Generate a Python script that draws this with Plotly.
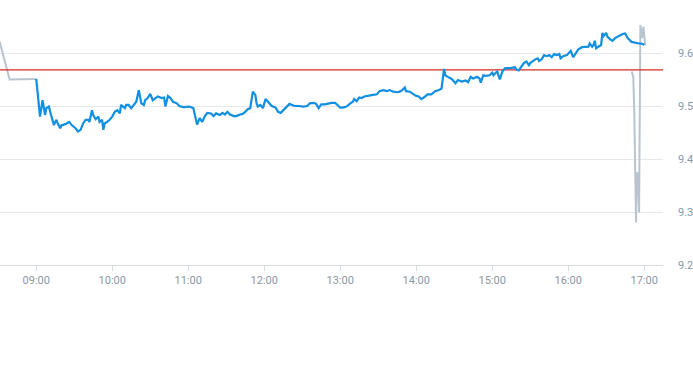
import plotly.graph_objects as go

DAY = "2024-01-02 "

# Regular-session price (blue)
blue_times = [
    "09:00", "09:02", "09:03", "09:05", "09:06", "09:07", "09:08", "09:10", "09:11", "09:13",
    "09:14", "09:15", "09:16", "09:17", "09:19", "09:20", "09:21", "09:24", "09:26", "09:28",
    "09:31", "09:33", "09:35", "09:37", "09:39", "09:41", "09:42", "09:44", "09:45", "09:47",
    "09:49", "09:50", "09:52", "09:53", "09:54", "09:56", "09:58", "10:00", "10:02", "10:04",
    "10:06", "10:07", "10:09", "10:10", "10:11", "10:13", "10:15", "10:17", "10:19", "10:21",
    "10:23", "10:25", "10:26", "10:28", "10:30", "10:32", "10:34", "10:36", "10:39", "10:41",
    "10:42", "10:44", "10:46", "10:48", "10:51", "10:53", "10:56", "11:01", "11:04", "11:05",
    "11:07", "11:09", "11:11", "11:13", "11:15", "11:18", "11:20", "11:22", "11:25", "11:27",
    "11:29", "11:31", "11:33", "11:36", "11:38", "11:41", "11:43", "11:45", "11:47", "11:49",
    "11:50", "11:51", "11:53", "11:54", "11:55", "11:57", "11:59", "12:00", "12:01", "12:03",
    "12:06", "12:09", "12:11", "12:13", "12:15", "12:18", "12:20", "12:22", "12:24", "12:27",
    "12:31", "12:34", "12:36", "12:39", "12:41", "12:43", "12:45", "12:48", "12:51", "12:53",
    "12:56", "12:58", "13:00", "13:02", "13:05", "13:08", "13:10", "13:11", "13:13", "13:15",
    "13:17", "13:19", "13:21", "13:24", "13:26", "13:29", "13:31", "13:34", "13:37", "13:39",
    "13:42", "13:45", "13:47", "13:49", "13:51", "13:52", "13:55", "13:58", "14:00", "14:02",
    "14:04", "14:06", "14:09", "14:12", "14:14", "14:15", "14:18", "14:20", "14:22", "14:23",
    "14:25", "14:28", "14:30", "14:31", "14:33", "14:36", "14:39", "14:41", "14:43", "14:45",
    "14:48", "14:50", "14:51", "14:53", "14:55", "14:58", "15:00", "15:01", "15:03", "15:04",
    "15:06", "15:08", "15:10", "15:13", "15:15", "15:18", "15:19", "15:21", "15:23", "15:25",
    "15:27", "15:29", "15:30", "15:32", "15:34", "15:36", "15:37", "15:39", "15:41", "15:43",
    "15:45", "15:47", "15:49", "15:51", "15:53", "15:54", "15:56", "15:59", "16:01", "16:02",
    "16:04", "16:06", "16:08", "16:11", "16:13", "16:16", "16:17", "16:19", "16:20", "16:21",
    "16:22", "16:24", "16:26", "16:27", "16:28", "16:30", "16:31", "16:33", "16:35", "16:37",
    "16:40", "16:42", "16:43", "16:45", "16:47", "16:50", "16:53", "16:56", "16:59", "17:00",
]
blue_values = [
    9.551, 9.505, 9.480, 9.511, 9.492, 9.483, 9.496, 9.499, 9.489, 9.474,
    9.464, 9.470, 9.474, 9.467, 9.458, 9.464, 9.464, 9.467, 9.470, 9.464,
    9.458, 9.452, 9.455, 9.467, 9.474, 9.474, 9.470, 9.492, 9.483, 9.475,
    9.480, 9.470, 9.474, 9.455, 9.467, 9.470, 9.474, 9.480, 9.489, 9.492,
    9.486, 9.502, 9.499, 9.496, 9.502, 9.502, 9.496, 9.502, 9.508, 9.530,
    9.505, 9.502, 9.511, 9.515, 9.523, 9.511, 9.515, 9.518, 9.515, 9.516,
    9.499, 9.519, 9.515, 9.508, 9.505, 9.500, 9.498, 9.499, 9.496, 9.486,
    9.465, 9.477, 9.470, 9.480, 9.487, 9.486, 9.481, 9.486, 9.483, 9.487,
    9.484, 9.489, 9.484, 9.481, 9.481, 9.484, 9.485, 9.489, 9.494, 9.496,
    9.515, 9.527, 9.521, 9.505, 9.499, 9.502, 9.496, 9.505, 9.513, 9.508,
    9.500, 9.497, 9.489, 9.487, 9.492, 9.500, 9.504, 9.502, 9.500, 9.500,
    9.499, 9.500, 9.505, 9.506, 9.504, 9.496, 9.503, 9.503, 9.505, 9.506,
    9.506, 9.502, 9.497, 9.497, 9.499, 9.505, 9.508, 9.513, 9.509, 9.516,
    9.515, 9.518, 9.519, 9.521, 9.521, 9.522, 9.528, 9.530, 9.528, 9.530,
    9.527, 9.526, 9.527, 9.530, 9.535, 9.528, 9.527, 9.522, 9.519, 9.518,
    9.513, 9.516, 9.522, 9.522, 9.526, 9.528, 9.530, 9.533, 9.570, 9.558,
    9.555, 9.551, 9.546, 9.543, 9.549, 9.546, 9.548, 9.545, 9.555, 9.552,
    9.555, 9.552, 9.544, 9.558, 9.557, 9.558, 9.563, 9.558, 9.563, 9.565,
    9.550, 9.565, 9.571, 9.571, 9.572, 9.573, 9.569, 9.567, 9.574, 9.581,
    9.584, 9.577, 9.581, 9.585, 9.588, 9.590, 9.585, 9.588, 9.596, 9.594,
    9.596, 9.592, 9.598, 9.596, 9.598, 9.590, 9.594, 9.596, 9.602, 9.604,
    9.592, 9.599, 9.607, 9.611, 9.611, 9.612, 9.618, 9.612, 9.615, 9.623,
    9.609, 9.612, 9.615, 9.638, 9.632, 9.638, 9.631, 9.626, 9.623, 9.628,
    9.632, 9.634, 9.636, 9.637, 9.628, 9.621, 9.619, 9.618, 9.617, 9.615,
]

# Extended-hours price (grey), pre-open and after-close parts
pre_times = ["08:31:00", "08:39:00", "09:00:00"]
pre_values = [9.622, 9.550, 9.551]
post_times = ["16:50:12", "16:51:24", "16:52:12", "16:53:00", "16:53:36", "16:54:06",
              "16:54:54", "16:56:00", "16:56:30", "16:57:00", "16:58:24", "16:59:24", "17:00:48"]
post_values = [9.565, 9.555, 9.487, 9.360, 9.280, 9.373,
               9.373, 9.299, 9.455, 9.653, 9.628, 9.650, 9.615]

prev_close = 9.568

x_range = ["08:31:24", "17:14:52"]
y_range = [9.2, 9.7]
y_ticks = [9.2, 9.3, 9.4, 9.5, 9.6]
x_ticks = ["09:00", "10:00", "11:00", "12:00", "13:00", "14:00", "15:00", "16:00", "17:00"]

BLUE = "#118fe0"
GREY = "#b8c5d0"
RED = "#d42a24"

fig = go.Figure()
fig.add_trace(go.Scatter(x=[DAY + t for t in pre_times], y=pre_values, mode="lines",
                         line=dict(color=GREY, width=2), hoverinfo="skip"))
fig.add_trace(go.Scatter(x=[DAY + t for t in post_times], y=post_values, mode="lines",
                         line=dict(color=GREY, width=2), hoverinfo="skip"))
fig.add_trace(go.Scatter(x=[DAY + t for t in x_range], y=[prev_close, prev_close], mode="lines",
                         line=dict(color=RED, width=1.2), hoverinfo="skip"))
fig.add_trace(go.Scatter(x=[DAY + t for t in blue_times], y=blue_values, mode="lines",
                         line=dict(color=BLUE, width=2.2), hoverinfo="skip"))

fig.update_layout(
    width=693, height=365,
    margin=dict(l=0, r=30, t=0, b=100),
    paper_bgcolor="white", plot_bgcolor="white",
    showlegend=False,
    font=dict(family="Roboto", size=11, color="#8a97a5"),
)
fig.update_xaxes(
    type="date",
    range=[DAY + x_range[0], DAY + x_range[1]],
    tickvals=[DAY + t for t in x_ticks], ticktext=x_ticks,
    showgrid=False, zeroline=False,
    showline=True, linecolor="#d6dbe0", linewidth=1,
    ticks="outside", ticklen=5, tickcolor="#d6dbe0",
    tickfont=dict(family="Roboto", size=11, color="#8a97a5"),
)
fig.update_yaxes(
    range=y_range, side="right",
    tickvals=y_ticks, ticktext=[f"{v:.1f}" for v in y_ticks],
    showgrid=True, gridcolor="#e6e9ec", gridwidth=1,
    zeroline=False, showline=False, ticks="",
    ticklabelstandoff=14,
    tickfont=dict(family="Roboto", size=11, color="#8a97a5"),
)

fig.write_html("out.html")
